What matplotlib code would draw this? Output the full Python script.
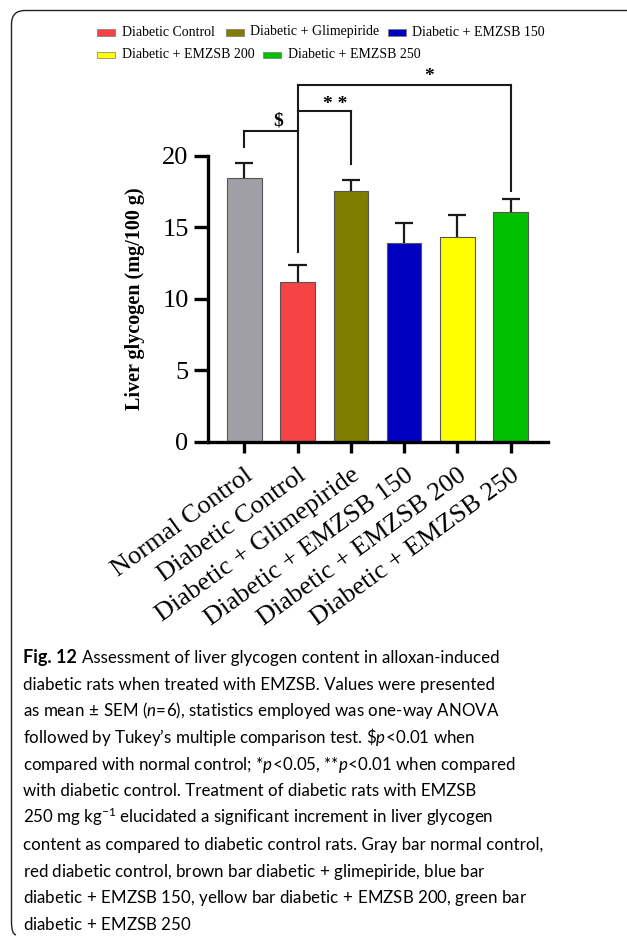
import matplotlib
matplotlib.use("Agg")
import matplotlib.pyplot as plt
import numpy as np
from matplotlib.patches import Rectangle, PathPatch
from matplotlib.path import Path
from matplotlib.transforms import Affine2D, ScaledTranslation

W, H = 627, 944

groups = ["Normal Control", "Diabetic Control", "Diabetic + Glimepiride",
          "Diabetic + EMZSB 150", "Diabetic + EMZSB 200", "Diabetic + EMZSB 250"]
means = [18.45, 11.2, 17.55, 13.9, 14.3, 16.1]
sems = [1.05, 1.17, 0.72, 1.4, 1.58, 0.88]
colors = ["#a09fa6", "#f64343", "#807d00", "#0000c0", "#ffff00", "#00c000"]

# significance brackets: (from, to, bar height, left leg bottom, right leg bottom, label, label x, label y)
brackets = [
    (0, 1, 21.7, 20.6, None, r"\$", 0.64, 22.4),
    (1, 2, 23.1, None, 19.4, "* *", 1.71, 23.6),
    (1, 5, 24.97, None, 17.5, "*", 3.46, 25.5),
]
dc_leg_bottom = 13.3

legend_rows = [
    [("Diabetic Control", 1, 97), ("Diabetic + Glimepiride", 2, 226), ("Diabetic + EMZSB 150", 3, 388)],
    [("Diabetic + EMZSB 200", 4, 97), ("Diabetic + EMZSB 250", 5, 263)],
]
legend_y = [32, 54.5]

caption = [
    "diabetic rats when treated with EMZSB. Values were presented",
    r"as mean$\,\pm\,$SEM ($n\!=\!6$), statistics employed was one-way ANOVA",
    r"followed by Tukey’s multiple comparison test. \$$p\!<\!$0.01 when",
    r"compared with normal control; *$p\!<\!$0.05, **$p\!<\!$0.01 when compared",
    "with diabetic control. Treatment of diabetic rats with EMZSB",
    r"250 mg kg$^{-1}$ elucidated a significant increment in liver glycogen",
    "content as compared to diabetic control rats. Gray bar normal control,",
    r"red diabetic control, brown bar diabetic$\,+\,$glimepiride, blue bar",
    r"diabetic$\,+\,$EMZSB 150, yellow bar diabetic$\,+\,$EMZSB 200, green bar",
    r"diabetic$\,+\,$EMZSB 250",
]
caption_first = "Assessment of liver glycogen content in alloxan-induced"

cap_font = "Lato"
cap_size = 12.2
plt.rcParams["mathtext.fontset"] = "custom"
plt.rcParams["mathtext.rm"] = cap_font
plt.rcParams["mathtext.it"] = cap_font + ":italic"
plt.rcParams["mathtext.bf"] = cap_font + ":bold"

fig = plt.figure(figsize=(W / 100, H / 100), dpi=100)
px = Affine2D().scale(1 / W, -1 / H).translate(0, 1) + fig.transFigure

ax = fig.add_axes([208 / W, 1 - 442 / H, 340 / W, (442 - 155.7) / H])
x = np.arange(len(groups))
ax.bar(x, means, width=0.65, color=colors, edgecolor="#555555", linewidth=0.8, zorder=2)
tops = np.array(means) + np.array(sems)
ax.vlines(x, means, tops, color="#1a1a1a", linewidth=1.6, zorder=3)
ax.hlines(tops, x - 0.17, x + 0.17, color="#1a1a1a", linewidth=1.6, zorder=3)

ax.set_xlim(-0.68, 5.7)
ax.set_ylim(0, 20)
ax.set_yticks([0, 5, 10, 15, 20])
for s in ["top", "right"]:
    ax.spines[s].set_visible(False)
for s in ["left", "bottom"]:
    ax.spines[s].set_linewidth(2.4)
ax.tick_params(axis="y", length=10, width=2.4, labelsize=19, pad=4)
ax.tick_params(axis="x", length=8, width=2.4)
for lab in ax.get_yticklabels():
    lab.set_fontfamily("Liberation Serif")

ax.set_xticks(x)
ax.set_xticklabels(groups, rotation=36, ha="right", va="top",
                   rotation_mode="anchor", fontsize=19, family="Liberation Serif")
for lab in ax.get_xticklabels():
    lab.set_transform(lab.get_transform() + ScaledTranslation(0.0, -0.06, fig.dpi_scale_trans))

ax.set_ylabel("Liver glycogen (mg/100 g)", fontsize=14.5, fontweight="bold",
              family="Liberation Serif")
ax.yaxis.set_label_coords(-0.185, 0.5)

# brackets
lk = dict(color="#1a1a1a", linewidth=1.5, clip_on=False, zorder=4)
ax.plot([1, 1], [dc_leg_bottom, brackets[2][2]], **lk)
for a, b, yb, left_bot, right_bot, txt, tx, ty in brackets:
    ax.plot([a, b], [yb, yb], **lk)
    if left_bot is not None:
        ax.plot([a, a], [left_bot, yb], **lk)
    if right_bot is not None:
        ax.plot([b, b], [right_bot, yb], **lk)
    ax.text(tx, ty, txt, ha="center", va="center", fontsize=14, fontweight="bold",
            family="Liberation Serif", clip_on=False)

# legend laid out along two rows
for row, yc in zip(legend_rows, legend_y):
    for name, ci, xl in row:
        fig.add_artist(Rectangle((xl, yc - 3), 17.5, 6.5, transform=px,
                                 facecolor=colors[ci], edgecolor="#777777", linewidth=0.5))
        fig.text(xl + 24.5, yc, name, transform=px, ha="left", va="center",
                 fontsize=10, family="Liberation Serif")

# caption
fig_lbl = fig.text(23, 663, "Fig. 12", transform=px, ha="left", va="baseline",
                   fontsize=cap_size + 0.8, fontweight="bold", family=cap_font)
fig.text(0, 0, caption_first, ha="left", va="baseline", fontsize=cap_size, family=cap_font,
         transform=fig_lbl.get_transform() + ScaledTranslation(0.59, 0, fig.dpi_scale_trans),
         position=(23, 663))
for i, line in enumerate(caption):
    fig.text(23, 663 + 26.7 * (i + 1), line, transform=px, ha="left", va="baseline",
             fontsize=cap_size, family=cap_font)

# frame around the figure panel
verts = [(W, 10.5), (25, 10.5), (11.5, 10.5), (11.5, 24), (11.5, 922),
         (11.5, 934), (16, 935)]
codes = [Path.MOVETO, Path.LINETO, Path.CURVE3, Path.CURVE3, Path.LINETO,
         Path.CURVE3, Path.CURVE3]
fig.add_artist(PathPatch(Path(verts, codes), transform=px, facecolor="none",
                         edgecolor="#222222", linewidth=1.0))

fig.savefig("out.png", dpi=100)
